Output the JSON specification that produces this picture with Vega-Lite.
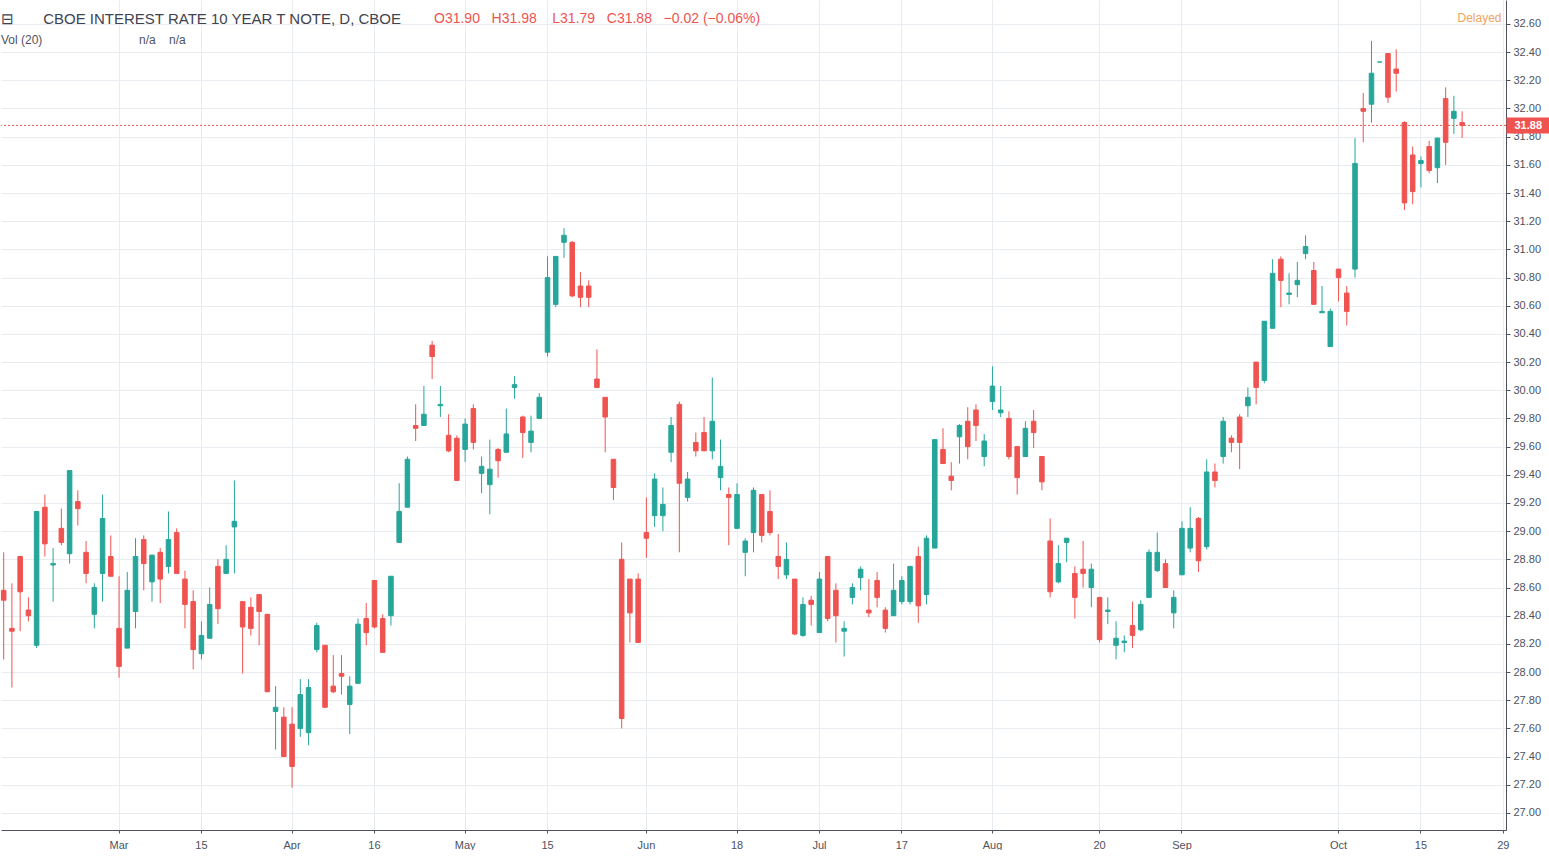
{
  "$schema": "https://vega.github.io/schema/vega-lite/v6.json",
  "width": 1505,
  "height": 830,
  "padding": 0,
  "background": "#ffffff",
  "config": {
    "view": {"stroke": null},
    "font": "Liberation Sans",
    "axis": {"labelFont": "Liberation Sans", "titleFont": "Liberation Sans"}
  },
  "title": {
    "text": "\u229f\u00a0\u00a0\u00a0\u00a0\u00a0\u00a0\u00a0CBOE INTEREST RATE 10 YEAR T NOTE, D, CBOE",
    "subtitle": "Vol (20)\u00a0\u00a0\u00a0\u00a0\u00a0\u00a0\u00a0\u00a0\u00a0\u00a0\u00a0\u00a0\u00a0\u00a0\u00a0\u00a0\u00a0\u00a0\u00a0\u00a0\u00a0\u00a0\u00a0\u00a0\u00a0\u00a0\u00a0\u00a0\u00a0n/a\u00a0\u00a0\u00a0\u00a0n/a",
    "anchor": "start",
    "frame": "group",
    "orient": "top",
    "offset": -46,
    "font": "Liberation Sans",
    "fontSize": 15,
    "fontWeight": "normal",
    "color": "#3e4350",
    "subtitleFont": "Liberation Sans",
    "subtitleFontSize": 12,
    "subtitleColor": "#50535e",
    "subtitlePadding": 8
  },
  "data": {
    "values": [
      {"d": "2018-02-08", "o": 28.58, "h": 28.85, "l": 28.09, "c": 28.51},
      {"d": "2018-02-09", "o": 28.31, "h": 28.63, "l": 27.89, "c": 28.29},
      {"d": "2018-02-12", "o": 28.82, "h": 28.82, "l": 28.29, "c": 28.57},
      {"d": "2018-02-13", "o": 28.44, "h": 28.53, "l": 28.36, "c": 28.40},
      {"d": "2018-02-14", "o": 28.19, "h": 29.14, "l": 28.17, "c": 29.14},
      {"d": "2018-02-15", "o": 29.17, "h": 29.26, "l": 28.82, "c": 28.91},
      {"d": "2018-02-16", "o": 28.76, "h": 28.88, "l": 28.50, "c": 28.77},
      {"d": "2018-02-20", "o": 29.02, "h": 29.16, "l": 28.90, "c": 28.92},
      {"d": "2018-02-21", "o": 28.84, "h": 29.43, "l": 28.77, "c": 29.43},
      {"d": "2018-02-22", "o": 29.21, "h": 29.29, "l": 29.04, "c": 29.16},
      {"d": "2018-02-23", "o": 28.85, "h": 28.93, "l": 28.63, "c": 28.70},
      {"d": "2018-02-26", "o": 28.41, "h": 28.63, "l": 28.31, "c": 28.60},
      {"d": "2018-02-27", "o": 28.70, "h": 29.26, "l": 28.50, "c": 29.09},
      {"d": "2018-02-28", "o": 28.82, "h": 28.97, "l": 28.68, "c": 28.68},
      {"d": "2018-03-01", "o": 28.31, "h": 28.68, "l": 27.96, "c": 28.04},
      {"d": "2018-03-02", "o": 28.17, "h": 28.71, "l": 28.17, "c": 28.58},
      {"d": "2018-03-05", "o": 28.43, "h": 28.95, "l": 28.31, "c": 28.82},
      {"d": "2018-03-06", "o": 28.94, "h": 28.97, "l": 28.58, "c": 28.77},
      {"d": "2018-03-07", "o": 28.64, "h": 28.83, "l": 28.50, "c": 28.83},
      {"d": "2018-03-08", "o": 28.85, "h": 28.88, "l": 28.49, "c": 28.66},
      {"d": "2018-03-09", "o": 28.75, "h": 29.14, "l": 28.70, "c": 28.94},
      {"d": "2018-03-12", "o": 28.99, "h": 29.02, "l": 28.70, "c": 28.70},
      {"d": "2018-03-13", "o": 28.66, "h": 28.72, "l": 28.31, "c": 28.48},
      {"d": "2018-03-14", "o": 28.50, "h": 28.58, "l": 28.02, "c": 28.16},
      {"d": "2018-03-15", "o": 28.13, "h": 28.36, "l": 28.09, "c": 28.26},
      {"d": "2018-03-16", "o": 28.24, "h": 28.60, "l": 28.24, "c": 28.48},
      {"d": "2018-03-19", "o": 28.75, "h": 28.80, "l": 28.34, "c": 28.45},
      {"d": "2018-03-20", "o": 28.70, "h": 28.90, "l": 28.70, "c": 28.80},
      {"d": "2018-03-21", "o": 29.03, "h": 29.36, "l": 28.70, "c": 29.07},
      {"d": "2018-03-22", "o": 28.50, "h": 28.50, "l": 27.99, "c": 28.32},
      {"d": "2018-03-23", "o": 28.46, "h": 28.53, "l": 28.26, "c": 28.31},
      {"d": "2018-03-26", "o": 28.55, "h": 28.55, "l": 28.19, "c": 28.43},
      {"d": "2018-03-27", "o": 28.41, "h": 28.41, "l": 27.86, "c": 27.86},
      {"d": "2018-03-28", "o": 27.72, "h": 27.90, "l": 27.45, "c": 27.75},
      {"d": "2018-03-29", "o": 27.68, "h": 27.75, "l": 27.40, "c": 27.40},
      {"d": "2018-04-02", "o": 27.63, "h": 27.75, "l": 27.18, "c": 27.33},
      {"d": "2018-04-03", "o": 27.60, "h": 27.95, "l": 27.54, "c": 27.84},
      {"d": "2018-04-04", "o": 27.57, "h": 27.95, "l": 27.48, "c": 27.89},
      {"d": "2018-04-05", "o": 28.16, "h": 28.35, "l": 28.14, "c": 28.33},
      {"d": "2018-04-06", "o": 28.19, "h": 28.19, "l": 27.75, "c": 27.75},
      {"d": "2018-04-09", "o": 27.90, "h": 28.12, "l": 27.85, "c": 27.86},
      {"d": "2018-04-10", "o": 27.99, "h": 28.12, "l": 27.84, "c": 27.97},
      {"d": "2018-04-11", "o": 27.77, "h": 27.97, "l": 27.56, "c": 27.90},
      {"d": "2018-04-12", "o": 27.92, "h": 28.38, "l": 27.92, "c": 28.34},
      {"d": "2018-04-13", "o": 28.38, "h": 28.49, "l": 28.19, "c": 28.28},
      {"d": "2018-04-16", "o": 28.65, "h": 28.65, "l": 28.31, "c": 28.32},
      {"d": "2018-04-17", "o": 28.38, "h": 28.41, "l": 28.14, "c": 28.14},
      {"d": "2018-04-18", "o": 28.40, "h": 28.68, "l": 28.33, "c": 28.68},
      {"d": "2018-04-19", "o": 28.92, "h": 29.34, "l": 28.92, "c": 29.14},
      {"d": "2018-04-20", "o": 29.17, "h": 29.53, "l": 29.17, "c": 29.51},
      {"d": "2018-04-23", "o": 29.75, "h": 29.90, "l": 29.64, "c": 29.73},
      {"d": "2018-04-24", "o": 29.75, "h": 30.03, "l": 29.75, "c": 29.83},
      {"d": "2018-04-25", "o": 30.32, "h": 30.35, "l": 30.08, "c": 30.24},
      {"d": "2018-04-26", "o": 29.89, "h": 30.03, "l": 29.81, "c": 29.90},
      {"d": "2018-04-27", "o": 29.68, "h": 29.83, "l": 29.56, "c": 29.57},
      {"d": "2018-04-30", "o": 29.66, "h": 29.68, "l": 29.36, "c": 29.36},
      {"d": "2018-05-01", "o": 29.58, "h": 29.80, "l": 29.49, "c": 29.76},
      {"d": "2018-05-02", "o": 29.87, "h": 29.90, "l": 29.58, "c": 29.63},
      {"d": "2018-05-03", "o": 29.41, "h": 29.53, "l": 29.27, "c": 29.46},
      {"d": "2018-05-04", "o": 29.33, "h": 29.65, "l": 29.12, "c": 29.44},
      {"d": "2018-05-07", "o": 29.58, "h": 29.59, "l": 29.38, "c": 29.50},
      {"d": "2018-05-08", "o": 29.56, "h": 29.87, "l": 29.56, "c": 29.69},
      {"d": "2018-05-09", "o": 30.02, "h": 30.10, "l": 29.94, "c": 30.04},
      {"d": "2018-05-10", "o": 29.81, "h": 29.82, "l": 29.52, "c": 29.70},
      {"d": "2018-05-11", "o": 29.63, "h": 29.82, "l": 29.56, "c": 29.71},
      {"d": "2018-05-14", "o": 29.80, "h": 29.98, "l": 29.80, "c": 29.95},
      {"d": "2018-05-15", "o": 30.27, "h": 30.95, "l": 30.24, "c": 30.80},
      {"d": "2018-05-16", "o": 30.61, "h": 30.95, "l": 30.59, "c": 30.95},
      {"d": "2018-05-17", "o": 31.05, "h": 31.15, "l": 30.94, "c": 31.10},
      {"d": "2018-05-18", "o": 31.05, "h": 31.06, "l": 30.66, "c": 30.67},
      {"d": "2018-05-21", "o": 30.74, "h": 30.84, "l": 30.59, "c": 30.66},
      {"d": "2018-05-22", "o": 30.74, "h": 30.78, "l": 30.59, "c": 30.66},
      {"d": "2018-05-23", "o": 30.08, "h": 30.29, "l": 30.02, "c": 30.02},
      {"d": "2018-05-24", "o": 29.95, "h": 29.95, "l": 29.56, "c": 29.81},
      {"d": "2018-05-25", "o": 29.51, "h": 29.51, "l": 29.22, "c": 29.31},
      {"d": "2018-05-29", "o": 28.80, "h": 28.92, "l": 27.60, "c": 27.67},
      {"d": "2018-05-30", "o": 28.66, "h": 28.66, "l": 28.21, "c": 28.42},
      {"d": "2018-05-31", "o": 28.66, "h": 28.70, "l": 28.21, "c": 28.21},
      {"d": "2018-06-01", "o": 28.99, "h": 29.24, "l": 28.81, "c": 28.95},
      {"d": "2018-06-04", "o": 29.11, "h": 29.41, "l": 29.03, "c": 29.37},
      {"d": "2018-06-05", "o": 29.11, "h": 29.31, "l": 29.00, "c": 29.19},
      {"d": "2018-06-06", "o": 29.56, "h": 29.81, "l": 29.49, "c": 29.75},
      {"d": "2018-06-07", "o": 29.90, "h": 29.92, "l": 28.85, "c": 29.34},
      {"d": "2018-06-08", "o": 29.24, "h": 29.42, "l": 29.21, "c": 29.37},
      {"d": "2018-06-11", "o": 29.63, "h": 29.70, "l": 29.53, "c": 29.57},
      {"d": "2018-06-12", "o": 29.70, "h": 29.81, "l": 29.57, "c": 29.57},
      {"d": "2018-06-13", "o": 29.57, "h": 30.09, "l": 29.51, "c": 29.78},
      {"d": "2018-06-14", "o": 29.38, "h": 29.65, "l": 29.29, "c": 29.46},
      {"d": "2018-06-15", "o": 29.26, "h": 29.31, "l": 28.90, "c": 29.24},
      {"d": "2018-06-18", "o": 29.02, "h": 29.34, "l": 29.02, "c": 29.26},
      {"d": "2018-06-19", "o": 28.85, "h": 28.95, "l": 28.68, "c": 28.93},
      {"d": "2018-06-20", "o": 28.99, "h": 29.31, "l": 28.85, "c": 29.29},
      {"d": "2018-06-21", "o": 29.26, "h": 29.26, "l": 28.92, "c": 28.97},
      {"d": "2018-06-22", "o": 29.14, "h": 29.29, "l": 28.97, "c": 28.99},
      {"d": "2018-06-25", "o": 28.82, "h": 28.98, "l": 28.66, "c": 28.75},
      {"d": "2018-06-26", "o": 28.69, "h": 28.92, "l": 28.66, "c": 28.80},
      {"d": "2018-06-27", "o": 28.66, "h": 28.66, "l": 28.26, "c": 28.27},
      {"d": "2018-06-28", "o": 28.26, "h": 28.53, "l": 28.25, "c": 28.48},
      {"d": "2018-06-29", "o": 28.51, "h": 28.54, "l": 28.33, "c": 28.48},
      {"d": "2018-07-02", "o": 28.28, "h": 28.71, "l": 28.28, "c": 28.66},
      {"d": "2018-07-03", "o": 28.82, "h": 28.82, "l": 28.36, "c": 28.38},
      {"d": "2018-07-05", "o": 28.58, "h": 28.63, "l": 28.21, "c": 28.40},
      {"d": "2018-07-06", "o": 28.29, "h": 28.36, "l": 28.11, "c": 28.31},
      {"d": "2018-07-09", "o": 28.53, "h": 28.63, "l": 28.48, "c": 28.60},
      {"d": "2018-07-10", "o": 28.67, "h": 28.75, "l": 28.58, "c": 28.73},
      {"d": "2018-07-11", "o": 28.44, "h": 28.66, "l": 28.39, "c": 28.42},
      {"d": "2018-07-12", "o": 28.65, "h": 28.71, "l": 28.46, "c": 28.53},
      {"d": "2018-07-13", "o": 28.44, "h": 28.46, "l": 28.28, "c": 28.31},
      {"d": "2018-07-16", "o": 28.40, "h": 28.77, "l": 28.40, "c": 28.58},
      {"d": "2018-07-17", "o": 28.50, "h": 28.68, "l": 28.48, "c": 28.65},
      {"d": "2018-07-18", "o": 28.50, "h": 28.75, "l": 28.48, "c": 28.75},
      {"d": "2018-07-19", "o": 28.82, "h": 28.89, "l": 28.35, "c": 28.47},
      {"d": "2018-07-20", "o": 28.55, "h": 28.97, "l": 28.48, "c": 28.95},
      {"d": "2018-07-23", "o": 28.88, "h": 29.65, "l": 28.88, "c": 29.65},
      {"d": "2018-07-24", "o": 29.58, "h": 29.73, "l": 29.48, "c": 29.48},
      {"d": "2018-07-25", "o": 29.39, "h": 29.49, "l": 29.29, "c": 29.36},
      {"d": "2018-07-26", "o": 29.67, "h": 29.76, "l": 29.48, "c": 29.75},
      {"d": "2018-07-27", "o": 29.78, "h": 29.88, "l": 29.51, "c": 29.60},
      {"d": "2018-07-30", "o": 29.86, "h": 29.90, "l": 29.64, "c": 29.75},
      {"d": "2018-07-31", "o": 29.53, "h": 29.69, "l": 29.46, "c": 29.64},
      {"d": "2018-08-01", "o": 29.92, "h": 30.17, "l": 29.86, "c": 30.03},
      {"d": "2018-08-02", "o": 29.84, "h": 30.03, "l": 29.81, "c": 29.86},
      {"d": "2018-08-03", "o": 29.80, "h": 29.85, "l": 29.51, "c": 29.53},
      {"d": "2018-08-06", "o": 29.60, "h": 29.60, "l": 29.26, "c": 29.38},
      {"d": "2018-08-07", "o": 29.53, "h": 29.78, "l": 29.53, "c": 29.73},
      {"d": "2018-08-08", "o": 29.78, "h": 29.86, "l": 29.59, "c": 29.70},
      {"d": "2018-08-09", "o": 29.53, "h": 29.53, "l": 29.29, "c": 29.35},
      {"d": "2018-08-10", "o": 28.93, "h": 29.09, "l": 28.53, "c": 28.57},
      {"d": "2018-08-13", "o": 28.64, "h": 28.90, "l": 28.63, "c": 28.77},
      {"d": "2018-08-14", "o": 28.92, "h": 28.95, "l": 28.78, "c": 28.95},
      {"d": "2018-08-15", "o": 28.70, "h": 28.75, "l": 28.38, "c": 28.53},
      {"d": "2018-08-16", "o": 28.73, "h": 28.93, "l": 28.60, "c": 28.70},
      {"d": "2018-08-17", "o": 28.60, "h": 28.77, "l": 28.46, "c": 28.73},
      {"d": "2018-08-20", "o": 28.53, "h": 28.53, "l": 28.21, "c": 28.23},
      {"d": "2018-08-21", "o": 28.43, "h": 28.53, "l": 28.34, "c": 28.44},
      {"d": "2018-08-22", "o": 28.19, "h": 28.36, "l": 28.09, "c": 28.24},
      {"d": "2018-08-23", "o": 28.21, "h": 28.26, "l": 28.14, "c": 28.22},
      {"d": "2018-08-24", "o": 28.33, "h": 28.50, "l": 28.17, "c": 28.26},
      {"d": "2018-08-27", "o": 28.30, "h": 28.51, "l": 28.29, "c": 28.48},
      {"d": "2018-08-28", "o": 28.53, "h": 28.87, "l": 28.53, "c": 28.85},
      {"d": "2018-08-29", "o": 28.72, "h": 28.99, "l": 28.71, "c": 28.85},
      {"d": "2018-08-30", "o": 28.77, "h": 28.80, "l": 28.60, "c": 28.60},
      {"d": "2018-08-31", "o": 28.42, "h": 28.58, "l": 28.31, "c": 28.53},
      {"d": "2018-09-04", "o": 28.69, "h": 29.07, "l": 28.69, "c": 29.02},
      {"d": "2018-09-05", "o": 28.88, "h": 29.17, "l": 28.85, "c": 29.02},
      {"d": "2018-09-06", "o": 29.09, "h": 29.10, "l": 28.71, "c": 28.79},
      {"d": "2018-09-07", "o": 28.89, "h": 29.51, "l": 28.87, "c": 29.42},
      {"d": "2018-09-10", "o": 29.42, "h": 29.48, "l": 29.31, "c": 29.36},
      {"d": "2018-09-11", "o": 29.53, "h": 29.81, "l": 29.48, "c": 29.78},
      {"d": "2018-09-12", "o": 29.66, "h": 29.68, "l": 29.56, "c": 29.63},
      {"d": "2018-09-13", "o": 29.81, "h": 29.83, "l": 29.44, "c": 29.63},
      {"d": "2018-09-14", "o": 29.89, "h": 30.02, "l": 29.81, "c": 29.95},
      {"d": "2018-09-17", "o": 30.20, "h": 30.20, "l": 29.90, "c": 30.02},
      {"d": "2018-09-18", "o": 30.07, "h": 30.49, "l": 30.05, "c": 30.49},
      {"d": "2018-09-19", "o": 30.44, "h": 30.93, "l": 30.44, "c": 30.83},
      {"d": "2018-09-20", "o": 30.93, "h": 30.95, "l": 30.59, "c": 30.78},
      {"d": "2018-09-21", "o": 30.68, "h": 30.83, "l": 30.61, "c": 30.69},
      {"d": "2018-09-24", "o": 30.75, "h": 30.91, "l": 30.66, "c": 30.78},
      {"d": "2018-09-25", "o": 30.97, "h": 31.10, "l": 30.93, "c": 31.02},
      {"d": "2018-09-26", "o": 30.85, "h": 30.91, "l": 30.61, "c": 30.61},
      {"d": "2018-09-27", "o": 30.55, "h": 30.74, "l": 30.55, "c": 30.56},
      {"d": "2018-09-28", "o": 30.31, "h": 30.58, "l": 30.31, "c": 30.56},
      {"d": "2018-10-01", "o": 30.86, "h": 30.86, "l": 30.63, "c": 30.80},
      {"d": "2018-10-02", "o": 30.69, "h": 30.74, "l": 30.46, "c": 30.56},
      {"d": "2018-10-03", "o": 30.86, "h": 31.79, "l": 30.80, "c": 31.61},
      {"d": "2018-10-04", "o": 32.00, "h": 32.11, "l": 31.76, "c": 31.98},
      {"d": "2018-10-05", "o": 32.03, "h": 32.48, "l": 31.90, "c": 32.25},
      {"d": "2018-10-08", "o": 32.33, "h": 32.33, "l": 32.33, "c": 32.33},
      {"d": "2018-10-09", "o": 32.39, "h": 32.39, "l": 32.04, "c": 32.08},
      {"d": "2018-10-10", "o": 32.28, "h": 32.42, "l": 32.12, "c": 32.25},
      {"d": "2018-10-11", "o": 31.90, "h": 31.91, "l": 31.28, "c": 31.33},
      {"d": "2018-10-12", "o": 31.67, "h": 31.73, "l": 31.32, "c": 31.41},
      {"d": "2018-10-15", "o": 31.61, "h": 31.66, "l": 31.44, "c": 31.63},
      {"d": "2018-10-16", "o": 31.73, "h": 31.77, "l": 31.54, "c": 31.56},
      {"d": "2018-10-17", "o": 31.58, "h": 31.79, "l": 31.47, "c": 31.79},
      {"d": "2018-10-18", "o": 32.07, "h": 32.15, "l": 31.60, "c": 31.76},
      {"d": "2018-10-19", "o": 31.93, "h": 32.09, "l": 31.82, "c": 31.98},
      {"d": "2018-10-22", "o": 31.90, "h": 31.98, "l": 31.79, "c": 31.88}
    ]
  },
  "layer": [
    {
      "mark": {"type": "rule", "strokeWidth": 1},
      "encoding": {
        "x": {
          "field": "d",
          "type": "ordinal",
          "scale": {
            "type": "band",
            "paddingInner": 0.45,
            "paddingOuter": 0.05,
            "domain": {"unionWith": ["2018-10-23", "2018-10-24", "2018-10-25", "2018-10-26", "2018-10-29"]}
          },
          "axis": {
            "values": ["2018-03-01", "2018-03-15", "2018-04-02", "2018-04-16", "2018-05-01", "2018-05-15", "2018-06-01", "2018-06-18", "2018-07-02", "2018-07-17", "2018-08-01", "2018-08-20", "2018-09-04", "2018-10-01", "2018-10-15", "2018-10-29"],
            "labelExpr": "['Mar','15','Apr','16','May','15','Jun','18','Jul','17','Aug','20','Sep','Oct','15','29'][indexof(['2018-03-01','2018-03-15','2018-04-02','2018-04-16','2018-05-01','2018-05-15','2018-06-01','2018-06-18','2018-07-02','2018-07-17','2018-08-01','2018-08-20','2018-09-04','2018-10-01','2018-10-15','2018-10-29'], datum.value)]",
            "labelAngle": 0,
            "labelOverlap": false,
            "labelFontSize": 11,
            "labelColor": "#4c525e",
            "labelPadding": 6,
            "bandPosition": 0.5,
            "grid": true,
            "gridColor": "#e8ecf0",
            "domainColor": "#50535e",
            "ticks": true,
            "tickSize": 3,
            "tickColor": "#50535e",
            "title": "O31.90\u00a0\u00a0\u00a0H31.98\u00a0\u00a0\u00a0\u00a0L31.79\u00a0\u00a0\u00a0C31.88\u00a0\u00a0\u00a0\u22120.02 (\u22120.06%)",
            "titleX": 432.5,
            "titleY": -808,
            "titleAlign": "left",
            "titleAngle": 0,
            "titleBaseline": "alphabetic",
            "titleColor": "#ef5350",
            "titleFontSize": 14,
            "titleFontWeight": "normal"
          }
        },
        "y": {
          "field": "l",
          "type": "quantitative",
          "scale": {"domain": [26.879, 32.77], "zero": false, "nice": false},
          "axis": {
            "orient": "right",
            "values": [27.0, 27.2, 27.4, 27.6, 27.8, 28.0, 28.2, 28.4, 28.6, 28.8, 29.0, 29.2, 29.4, 29.6, 29.8, 30.0, 30.2, 30.4, 30.6, 30.8, 31.0, 31.2, 31.4, 31.6, 31.8, 32.0, 32.2, 32.4, 32.6],
            "format": ".2f",
            "grid": true,
            "gridColor": "#e8ecf0",
            "domainColor": "#50535e",
            "tickColor": "#50535e",
            "tickSize": 4,
            "labelFontSize": 11,
            "labelColor": "#4c525e",
            "labelPadding": 3,
            "title": null
          }
        },
        "y2": {"field": "h"},
        "color": {"condition": {"test": "datum.c >= datum.o", "value": "#26a69a"}, "value": "#ef5350"}
      }
    },
    {
      "mark": {"type": "bar", "strokeWidth": 1},
      "encoding": {
        "x": {
          "field": "d",
          "type": "ordinal",
          "scale": {
            "type": "band",
            "paddingInner": 0.45,
            "paddingOuter": 0.05,
            "domain": {"unionWith": ["2018-10-23", "2018-10-24", "2018-10-25", "2018-10-26", "2018-10-29"]}
          },
          "axis": {
            "values": ["2018-03-01", "2018-03-15", "2018-04-02", "2018-04-16", "2018-05-01", "2018-05-15", "2018-06-01", "2018-06-18", "2018-07-02", "2018-07-17", "2018-08-01", "2018-08-20", "2018-09-04", "2018-10-01", "2018-10-15", "2018-10-29"],
            "labelExpr": "['Mar','15','Apr','16','May','15','Jun','18','Jul','17','Aug','20','Sep','Oct','15','29'][indexof(['2018-03-01','2018-03-15','2018-04-02','2018-04-16','2018-05-01','2018-05-15','2018-06-01','2018-06-18','2018-07-02','2018-07-17','2018-08-01','2018-08-20','2018-09-04','2018-10-01','2018-10-15','2018-10-29'], datum.value)]",
            "labelAngle": 0,
            "labelOverlap": false,
            "labelFontSize": 11,
            "labelColor": "#4c525e",
            "labelPadding": 6,
            "bandPosition": 0.5,
            "grid": true,
            "gridColor": "#e8ecf0",
            "domainColor": "#50535e",
            "ticks": true,
            "tickSize": 3,
            "tickColor": "#50535e",
            "title": "O31.90\u00a0\u00a0\u00a0H31.98\u00a0\u00a0\u00a0\u00a0L31.79\u00a0\u00a0\u00a0C31.88\u00a0\u00a0\u00a0\u22120.02 (\u22120.06%)",
            "titleX": 432.5,
            "titleY": -808,
            "titleAlign": "left",
            "titleAngle": 0,
            "titleBaseline": "alphabetic",
            "titleColor": "#ef5350",
            "titleFontSize": 14,
            "titleFontWeight": "normal"
          }
        },
        "y": {
          "field": "o",
          "type": "quantitative",
          "scale": {"domain": [26.879, 32.77], "zero": false, "nice": false},
          "axis": null
        },
        "y2": {"field": "c"},
        "fill": {"condition": {"test": "datum.c >= datum.o", "value": "#26a69a"}, "value": "#ef5350"},
        "stroke": {"condition": {"test": "datum.c >= datum.o", "value": "#26a69a"}, "value": "#ef5350"}
      }
    },
    {
      "data": {"values": [{"close": 31.88}]},
      "mark": {"type": "rule", "color": "#ef5350", "strokeWidth": 1, "strokeDash": [2, 2]},
      "encoding": {
        "y": {
          "field": "close",
          "type": "quantitative",
          "scale": {"domain": [26.879, 32.77], "zero": false, "nice": false},
          "axis": {
            "orient": "right",
            "values": [31.88],
            "format": ".2f",
            "grid": false,
            "domain": false,
            "ticks": true,
            "tickSize": 44,
            "tickWidth": 16,
            "tickColor": "#ef5350",
            "labelColor": "#ffffff",
            "labelFontWeight": "bold",
            "labelFontSize": 11,
            "labelPadding": -36,
            "title": "Delayed",
            "titleX": -5,
            "titleY": 21,
            "titleAlign": "right",
            "titleAngle": 0,
            "titleBaseline": "alphabetic",
            "titleColor": "#f0a35e",
            "titleFontSize": 12,
            "titleFontWeight": "normal"
          }
        }
      }
    }
  ],
  "resolve": {"axis": {"y": "independent"}}
}
